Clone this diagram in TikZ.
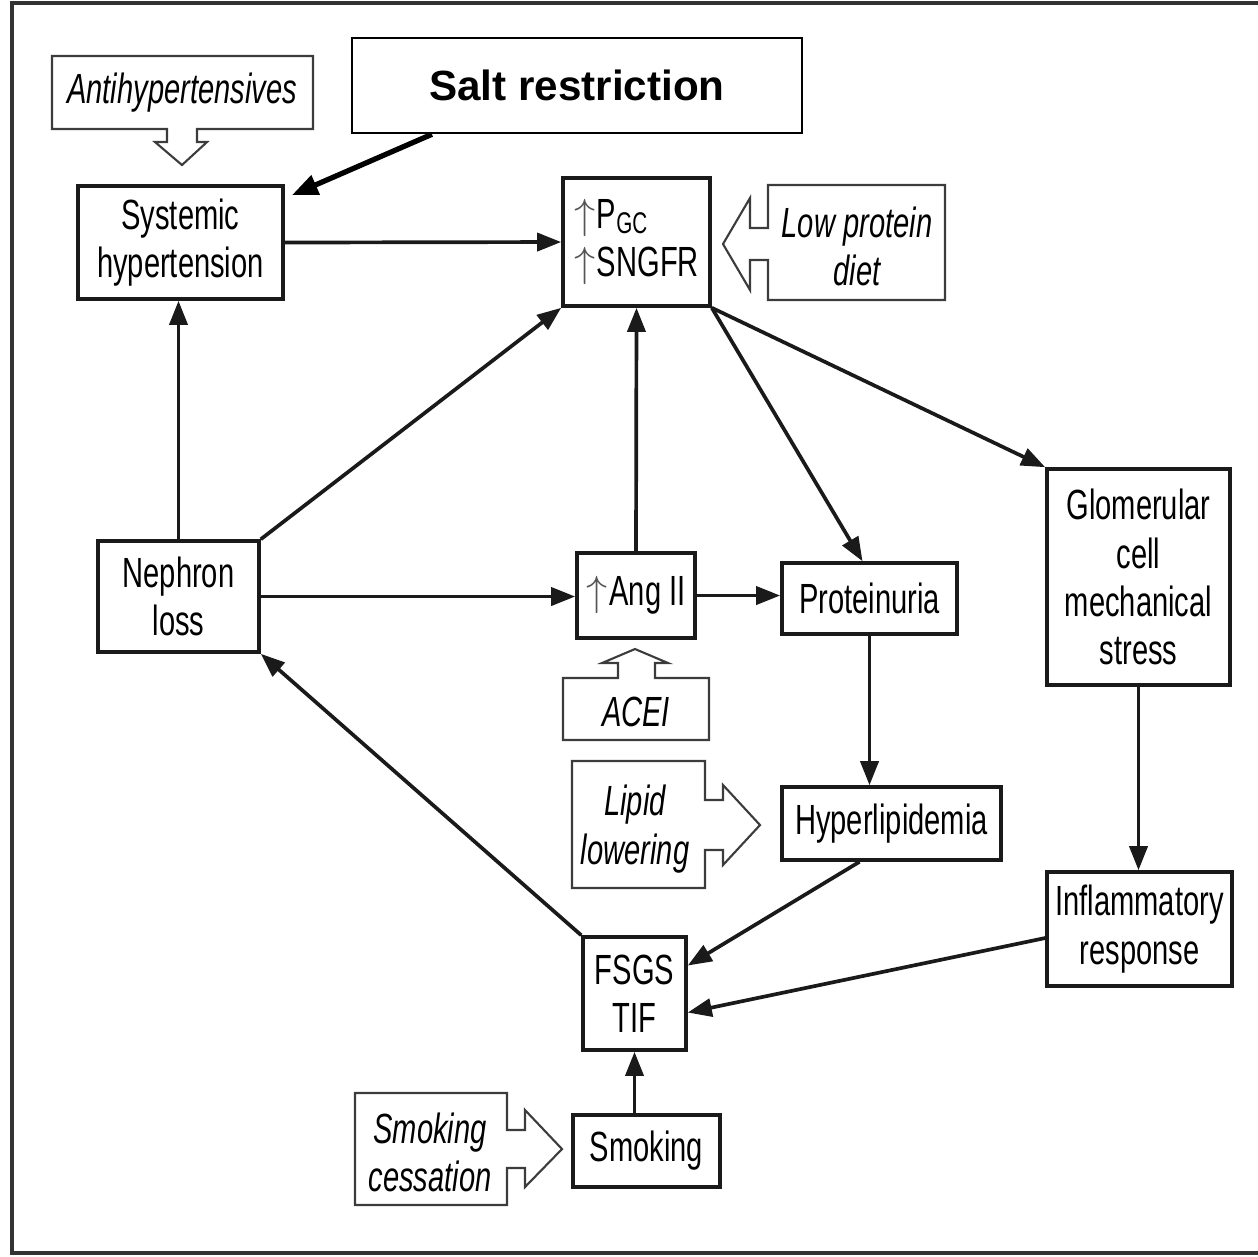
\documentclass[tikz,border=0pt]{standalone}
\usepackage{fontspec}
\setmainfont{Liberation Sans}[FakeStretch=0.69]
\newfontfamily\saltFont{Liberation Sans}
\usetikzlibrary{arrows.meta}
\definecolor{boxBlack}{HTML}{1A1A1A}
\definecolor{hintGray}{HTML}{3C3C3C}
\definecolor{frameGray}{HTML}{333333}
\definecolor{upGray}{HTML}{555555}
\newcommand{\upArrow}{{\color{upGray}$\uparrow$}\kern0.5pt}

\begin{document}
\begin{tikzpicture}[x=0.01cm, y=-0.01cm,
	box/.style={draw=boxBlack, line width=1pt, inner sep=0pt, align=center, font=\fontsize{12}{13.7}\selectfont},
	hint/.style={draw=hintGray, line width=0.6pt, line join=miter},
	hinttext/.style={inner sep=0pt, align=center, font=\fontsize{12}{13.7}\selectfont\itshape},
	flow/.style={draw=boxBlack, line width=1.05pt, -{Triangle[length=0.24cm,width=0.18cm]}}]
	\useasboundingbox (0,0) rectangle (1258,1256);
	\draw[frameGray, line width=1pt] (1258,3) -- (12,3) -- (12,1253) -- (1258,1253);

	% hollow hint arrows
	\draw[hint] (52,56) -- (313,56) -- (313,129) -- (197,129) -- (197,142) -- (207,142) -- (182,165) -- (155,142) -- (167,142) -- (167,129) -- (52,129) -- cycle;
	\draw[hint] (768,185) -- (945,185) -- (945,300) -- (768,300) -- (768,260) -- (750,260) -- (750,290) -- (723,244) -- (750,198) -- (750,228) -- (768,228) -- cycle;
	\draw[hint] (563,678) -- (618,678) -- (618,663) -- (602,663) -- (635,649) -- (668,663) -- (655,663) -- (655,678) -- (709,678) -- (709,740) -- (563,740) -- cycle;
	\draw[hint] (572,761) -- (705,761) -- (705,800) -- (723,800) -- (723,785) -- (760,825) -- (723,865) -- (723,850) -- (705,850) -- (705,888) -- (572,888) -- cycle;
	\draw[hint] (355,1093) -- (507,1093) -- (507,1130) -- (525,1130) -- (525,1110) -- (562,1149) -- (525,1187) -- (525,1168) -- (507,1168) -- (507,1205) -- (355,1205) -- cycle;

	\node[hinttext] (antihyp) at (182,93) {Antihypertensives};
	\node[hinttext] (lowprot) at (857,246) {Low protein\\diet};
	\node[hinttext] (acei) at (636,712) {ACEI};
	\node[hinttext] (lipid) at (635,829) {Lipid\\lowering};
	\node[hinttext] (smokcess) at (430,1152) {Smoking\\cessation};

	% main boxes
	\node[draw=black, line width=0.7pt, minimum width=4.5cm, minimum height=0.95cm, font=\saltFont\fontsize{12}{14}\selectfont\bfseries] (salt) at (577,85.5) {Salt restriction};
	\node[box, minimum width=2.05cm, minimum height=1.13cm] (systemic) at (180.5,242.5) {Systemic\\hypertension};
	\node[box, align=left, minimum width=1.47cm, minimum height=1.28cm] (pgc) at (636.5,242) {\upArrow P{\fontsize{8.5}{8.5}\selectfont\raisebox{-1.5pt}{GC}}\\\upArrow SNGFR};
	\node[box, minimum width=1.61cm, minimum height=1.11cm] (nephron) at (178.5,596.5) {Nephron\\loss};
	\node[box, minimum width=1.18cm, minimum height=0.85cm] (angii) at (636,595.5) {\upArrow Ang II};
	\node[box, minimum width=1.75cm, minimum height=0.71cm] (proteinuria) at (869.5,598.5) {Proteinuria};
	\node[box, minimum width=1.83cm, minimum height=2.16cm] (glomerular) at (1138.5,577) {Glomerular\\cell\\mechanical\\stress};
	\node[box, minimum width=2.19cm, minimum height=0.73cm] (hyperlip) at (891.5,823.5) {Hyperlipidemia};
	\node[box, minimum width=1.85cm, minimum height=1.14cm] (inflam) at (1139.5,929) {Inflammatory\\response};
	\node[box, minimum width=1.03cm, minimum height=1.13cm] (fsgs) at (634.5,993.5) {FSGS\\TIF};
	\node[box, minimum width=1.47cm, minimum height=0.72cm] (smoking) at (646.5,1151) {Smoking};

	% connectors
	\draw[draw=black, line width=1.5pt, -{Triangle[length=0.26cm,width=0.2cm]}] ([xshift=-1.45cm]salt.south) -- ([xshift=0.07cm,yshift=-0.11cm]systemic.north east);
	\draw[flow] (systemic.east) -- (pgc.west);
	\draw[flow] (nephron.north) -- (nephron.north |- systemic.south);
	\draw[flow] (nephron.north east) -- (pgc.south west);
	\draw[flow] (nephron.east) -- (nephron.east -| angii.west);
	\draw[flow] (angii.north) -- (pgc.south);
	\draw[flow] (angii.east) -- (angii.east -| proteinuria.west);
	\draw[flow] (pgc.south east) -- ([xshift=-0.07cm]proteinuria.north);
	\draw[flow] (pgc.south east) -- (glomerular.north west);
	\draw[flow] (proteinuria.south) -- (proteinuria.south |- hyperlip.north);
	\draw[flow] (glomerular.south) -- (glomerular.south |- inflam.north);
	\draw[flow] ([xshift=-0.32cm]hyperlip.south) -- ([yshift=0.28cm]fsgs.east);
	\draw[flow] ([yshift=-0.09cm]inflam.west) -- ([yshift=-0.19cm]fsgs.east);
	\draw[flow] (fsgs.north west) -- (nephron.south east);
	\draw[flow] (smoking.north -| fsgs.south) -- (fsgs.south);
\end{tikzpicture}
\end{document}
